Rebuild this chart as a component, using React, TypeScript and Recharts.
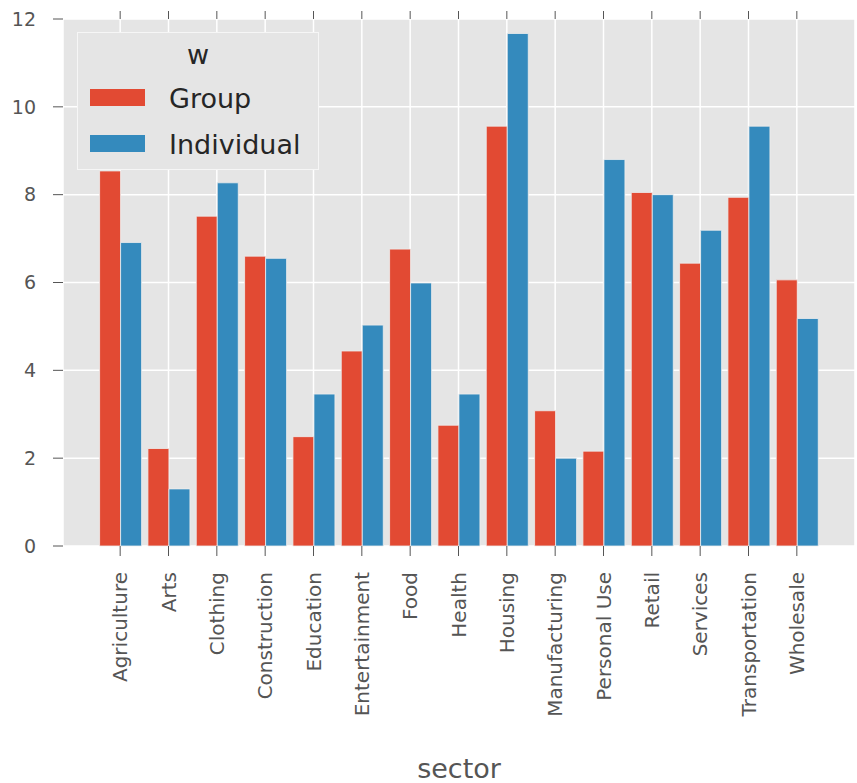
import { BarChart, Bar, XAxis, YAxis, CartesianGrid, Legend } from "recharts"

const sectors = [
  "Agriculture", "Arts", "Clothing", "Construction", "Education", "Entertainment", "Food",
  "Health", "Housing", "Manufacturing", "Personal Use", "Retail", "Services", "Transportation", "Wholesale",
]
const groupValues = [8.54, 2.22, 7.51, 6.6, 2.49, 4.44, 6.76, 2.75, 9.56, 3.08, 2.16, 8.05, 6.44, 7.94, 6.06]
const individualValues = [6.91, 1.3, 8.27, 6.55, 3.46, 5.03, 5.99, 3.46, 11.67, 2.0, 8.8, 8.0, 7.19, 9.56, 5.18]
const yTicks = [0, 2, 4, 6, 8, 10, 12]

const data = sectors.map((sector, i) => ({
  sector,
  Group: groupValues[i],
  Individual: individualValues[i],
}))

const font = "'DejaVu Sans', sans-serif"
const tickColor = "#555555"

function SectorTick({ x, y, payload }: any) {
  return (
    <text
      x={x}
      y={y}
      transform={`rotate(-90 ${x} ${y})`}
      textAnchor="end"
      dy="0.35em"
      fontSize={20}
      fontFamily={font}
      fill={tickColor}
    >
      {payload.value}
    </text>
  )
}

// top axis: tick marks only, no labels
function EmptyTick() {
  return <g />
}

function LegendBox({ payload }: any) {
  const rows = [52, 98]
  return (
    <div
      style={{
        position: "relative",
        width: 242,
        height: 138,
        boxSizing: "border-box",
        border: "1px solid #f6f6f6",
        background: "#E5E5E5",
        fontFamily: font,
        color: "#262626",
        fontSize: 27,
        lineHeight: "27px",
      }}
    >
      <div style={{ position: "absolute", left: 0, right: 0, top: 8, textAlign: "center" }}>w</div>
      {(payload || []).map((item: any, i: number) => (
        <div key={item.value}>
          <div
            style={{
              position: "absolute",
              left: 12,
              top: rows[i] + 4,
              width: 55,
              height: 17,
              background: item.color,
            }}
          />
          <div style={{ position: "absolute", left: 91, top: rows[i] }}>{item.value}</div>
        </div>
      ))}
    </div>
  )
}

export default function App() {
  return (
    <div style={{ position: "absolute", left: 0, top: 0, background: "#fff" }}>
      <BarChart
        width={857}
        height={783}
        data={data}
        margin={{ top: 9, right: 2, bottom: 0, left: 0 }}
        barCategoryGap={3.6}
        barGap={0}
      >
        <CartesianGrid stroke="#ffffff" strokeWidth={1.5} fill="#E5E5E5" />
        <XAxis
          dataKey="sector"
          interval={0}
          height={237}
          padding={{ left: 33, right: 34 }}
          axisLine={false}
          tickSize={10}
          tickMargin={16}
          tickLine={{ stroke: tickColor }}
          tick={<SectorTick />}
          label={{
            value: "sector",
            position: "insideBottom",
            offset: 5,
            fontSize: 27,
            fontFamily: font,
            fill: tickColor,
          }}
        />
        <XAxis
          xAxisId="top"
          dataKey="sector"
          orientation="top"
          interval={0}
          height={10}
          padding={{ left: 33, right: 34 }}
          axisLine={false}
          tickSize={8}
          tickLine={{ stroke: tickColor }}
          tick={<EmptyTick />}
        />
        <YAxis
          width={63}
          domain={[0, 12]}
          ticks={yTicks}
          interval={0}
          axisLine={false}
          tickSize={10}
          tickMargin={17}
          tickLine={{ stroke: tickColor }}
          tick={{ fontSize: 19, fontFamily: font, fill: tickColor }}
        />
        <Legend
          layout="vertical"
          align="center"
          verticalAlign="middle"
          wrapperStyle={{ left: 77, top: 32, width: 242, height: 138 }}
          content={<LegendBox />}
        />
        <Bar dataKey="Group" fill="#E24A33" stroke="#eeeeee" strokeWidth={0.8} isAnimationActive={false} />
        <Bar dataKey="Individual" fill="#348ABD" stroke="#eeeeee" strokeWidth={0.8} isAnimationActive={false} />
      </BarChart>
    </div>
  )
}
